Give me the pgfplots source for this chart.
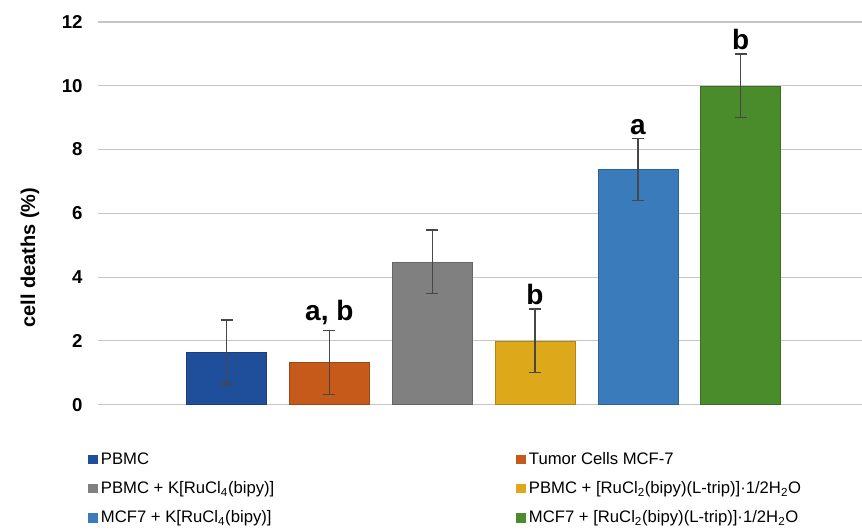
\documentclass[border=0pt]{standalone}
\usepackage{pgfplots}
\pgfplotsset{compat=1.18}
\usepackage{fontspec}
\setmainfont{Liberation Sans}
\definecolor{cA}{HTML}{1F4E9A}
\definecolor{cB}{HTML}{C65A1B}
\definecolor{cC}{HTML}{808080}
\definecolor{cD}{HTML}{DDA81A}
\definecolor{cE}{HTML}{3A7BBC}
\definecolor{cF}{HTML}{4A8C2C}
\begin{document}
\begin{tikzpicture}
\useasboundingbox (-73.5pt,-94.5pt) rectangle (573pt,303.5pt);
\begin{axis}[
  at={(0,0)}, anchor=south west,
  scale only axis, width=573pt, height=287pt,
  xmin=-1.25, xmax=6.18, ymin=0, ymax=12,
  ytick={0,2,...,12}, xtick=\empty,
  axis line style={draw=none},
  ymajorgrids, major grid style={gray!45, line width=0.9pt},
  major tick length=0pt,
  /pgf/number format/assume math mode=true,
  yticklabel style={font=\fontsize{14}{16}\selectfont\bfseries, xshift=-8pt},
  ylabel={cell deaths (\%)},
  ylabel style={font=\fontsize{15}{18}\selectfont\bfseries, at={(axis description cs:-0.089,0.384)}, anchor=center},
  ybar, bar width=60pt, bar shift=0pt,
  error bars/y dir=both, error bars/y explicit,
  error bars/error bar style={black!72, line width=1pt},
  error bars/error mark options={rotate=90, black!72, mark size=4.5pt, line width=1pt},
  legend columns=2,
  legend style={at={(0,0)}, anchor=north west, yshift=-34.8pt, xshift=-7.5pt, draw=none,
    font=\fontsize{12.5}{15}\selectfont, row sep=9.25pt, inner sep=0pt,
    nodes={inner sep=1pt}},
  legend cell align=left,
  legend image code/.code={\fill[#1,draw=none] (0pt,-3.5pt) rectangle (7pt,3.5pt);},
]
\addplot[fill=cA, draw=cA!80!black] coordinates {(0,1.65) +- (0,1.0)};
\addplot[fill=cB, draw=cB!80!black] coordinates {(1,1.32) +- (0,1.0)};
\addplot[fill=cC, draw=cC!80!black] coordinates {(2,4.48) +- (0,1.0)};
\addplot[fill=cD, draw=cD!80!black] coordinates {(3,2.0) +- (0,1.0)};
\addplot[fill=cE, draw=cE!80!black] coordinates {(4,7.37) +- (0,0.97)};
\addplot[fill=cF, draw=cF!80!black] coordinates {(5,10.0) +- (0,1.0)};
\legend{\makebox[312pt][l]{\hspace{1.5pt}PBMC}, \hspace{1.5pt}Tumor Cells MCF-7,
  \makebox[312pt][l]{\hspace{1.5pt}PBMC + K[RuCl\textsubscript{4}(bipy)]}, \hspace{1.5pt}PBMC + [RuCl\textsubscript{2}(bipy)(L-trip)]·1/2H\textsubscript{2}O,
  \makebox[312pt][l]{\hspace{1.5pt}MCF7 + K[RuCl\textsubscript{4}(bipy)]}, \hspace{1.5pt}MCF7 + [RuCl\textsubscript{2}(bipy)(L-trip)]·1/2H\textsubscript{2}O}
\begin{scope}[every node/.style={font=\fontsize{21}{24}\selectfont\bfseries, anchor=south, inner sep=2pt}]
\node at (axis cs:1,2.4) {a, b};
\node at (axis cs:3,3.05) {b};
\node at (axis cs:4,8.38) {a};
\node at (axis cs:5,11.05) {b};
\end{scope}
\end{axis}
\end{tikzpicture}
\end{document}
